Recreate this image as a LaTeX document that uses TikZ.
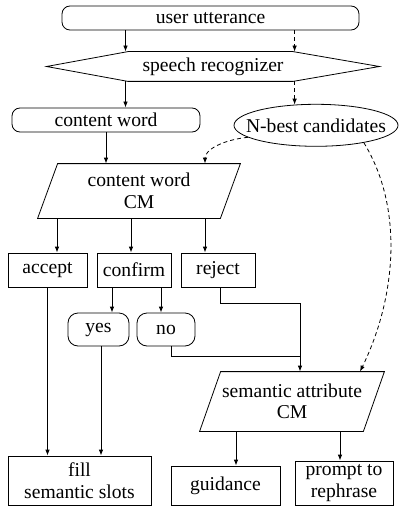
\documentclass[tikz,border=0pt]{standalone}
\usepackage{fontspec}
\setmainfont{Liberation Serif}
\newfontfamily\tmsfont{Liberation Serif}
\usetikzlibrary{shapes.geometric,arrows.meta,calc}
\begin{document}
\begin{tikzpicture}[x=1pt,y=-1pt,line width=0.8pt,
  font=\tmsfont\fontsize{19.6}{21.5}\selectfont,
  box/.style={draw,rectangle,inner sep=0pt,align=center},
  rbox/.style={draw,rectangle,rounded corners=8pt,inner sep=0pt},
  plain/.style={inner sep=0pt,align=center},
  arr/.style={-{Latex[length=6pt,width=4.5pt]}},
  dsh/.style={dash pattern=on 4pt off 3pt}]
\useasboundingbox (0,0) rectangle (400,508);
% nodes
\node[rbox,minimum width=297pt,minimum height=24pt] (uu) at (210.5,18) {user utterance};
\node[plain,minimum width=332pt,minimum height=29pt] (sr) at (213,66.5) {speech recognizer};
\draw (sr.west) -- ($(sr.north)+(-85,0)$) -- ($(sr.north)+(80,0)$) -- (sr.east)
  -- ($(sr.south)+(80,0)$) -- ($(sr.south)+(-85,0)$) -- cycle;
\node[rbox,minimum width=188pt,minimum height=24pt] (cw) at (106,120) {content word};
\node[draw,ellipse,inner sep=0pt,minimum width=164pt,minimum height=42pt] (nb) at (316,125.3) {\makebox[0pt]{N-best candidates}};
\node[plain,minimum width=182pt,minimum height=54pt] (cm1) at (139,191) {content word\\CM};
\draw ($(cm1.north west)+(10,0)$) -- ($(cm1.north east)+(10,0)$) -- ($(cm1.south east)+(-10,0)$) -- ($(cm1.south west)+(-10,0)$) -- cycle;
\node[box,minimum width=79pt,minimum height=34pt] (acc) at (47.5,270) {accept};
\node[box,minimum width=74pt,minimum height=34pt] (con) at (134,270) {confirm};
\node[box,minimum width=74pt,minimum height=34pt] (rej) at (218,270) {reject};
\node[rbox,rounded corners=10pt,minimum width=61pt,minimum height=33pt] (yes) at (98.5,329.5) {yes};
\node[rbox,rounded corners=10pt,minimum width=58pt,minimum height=33pt] (no) at (166,329.5) {no};
\node[plain,minimum width=163pt,minimum height=59pt] (cm2) at (292,401.5) {semantic attribute\\CM};
\draw ($(cm2.north west)+(10.5,0)$) -- ($(cm2.north east)+(10.5,0)$) -- ($(cm2.south east)+(-10.5,0)$) -- ($(cm2.south west)+(-10.5,0)$) -- cycle;
\node[box,minimum width=143pt,minimum height=49pt] (fill) at (79.5,480.5) {fill\\semantic slots};
\node[box,minimum width=109pt,minimum height=39pt] (gui) at (225.5,485.5) {guidance};
\node[box,minimum width=98pt,minimum height=44pt] (pr) at (344,483) {prompt to\\rephrase};
% helper coordinates
\coordinate (lx) at (125.5,0);
\coordinate (c1) at ($(cm1.south)+(-82,0)$);
\coordinate (c2) at ($(cm1.south)+(-8,0)$);
\coordinate (c3) at ($(cm1.south)+(66,0)$);
\coordinate (c4) at ($(cm1.north)+(66,0)$);
\coordinate (d1) at ($(con.south)+(-22,0)$);
\coordinate (d2) at ($(con.south)+(27,0)$);
\coordinate (y1) at ($(yes.south)+(2.5,0)$);
\coordinate (r1) at ($(rej.south)+(2,0)$);
\coordinate (n1) at ($(no.south)+(5,0)$);
\coordinate (s0) at ($(cm2.north)+(8,0)$);
\coordinate (s1) at ($(cm2.north)+(8,-15)$);
\coordinate (s2) at ($(cm2.north)+(68,0)$);
\coordinate (e1) at ($(cm2.south)+(-56,0)$);
\coordinate (e2) at ($(cm2.south)+(48,0)$);
% connectors
\draw[arr] (uu.south -| lx) -- (sr.north -| lx);
\draw[arr,dsh] (uu.south -| nb.136) -- (sr.north -| nb.136);
\draw[arr] (sr.south -| lx) -- (cw.north -| lx);
\draw[arr,dsh] (sr.south -| nb.136) -- (nb.136);
\draw[arr] (cw.south) -- (cw.south |- cm1.north);
\draw[arr,dsh] (nb.190) .. controls (222,140) and (205,150) .. (c4);
\draw[arr,dsh] (nb.-20) .. controls (405,210) and (395,300) .. (s2);
\draw[arr] (c1) -- (c1 |- acc.north);
\draw[arr] (c2) -- (c2 |- con.north);
\draw[arr] (c3) -- (c3 |- rej.north);
\draw[arr] (d1) -- (d1 |- yes.north);
\draw[arr] (d2) -- (d2 |- no.north);
\draw[arr] (acc.south) -- (acc.south |- fill.north);
\draw[arr] (y1) -- (y1 |- fill.north);
\draw[arr] (r1) -- ++(0,16) -| (s0);
\draw (n1) |- (s1);
\draw[arr] (e1) -- (e1 |- gui.north);
\draw[arr] (e2) -- (e2 |- pr.north);
\end{tikzpicture}
\end{document}
